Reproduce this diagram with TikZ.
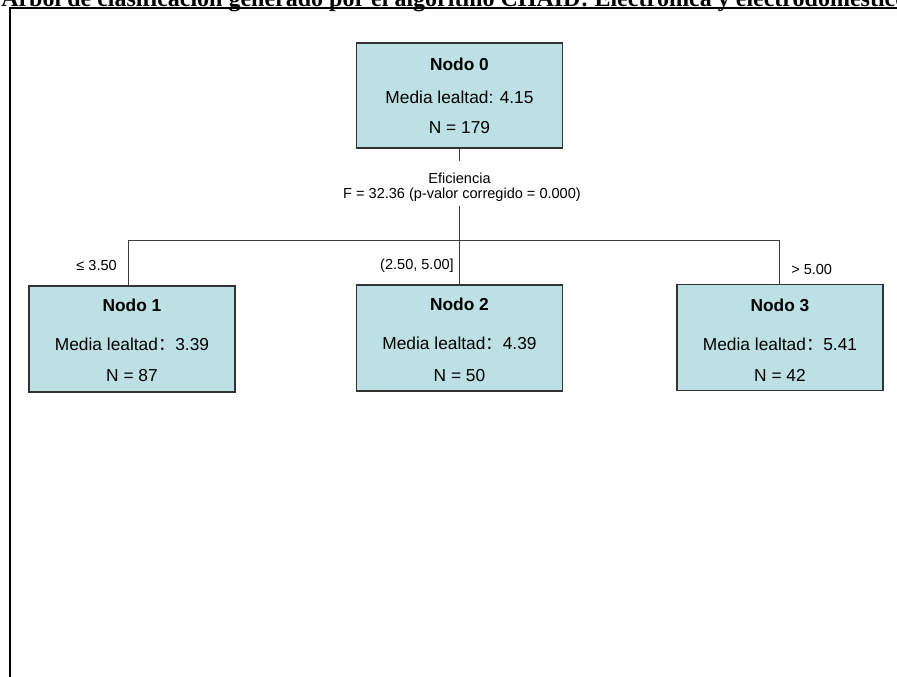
\documentclass[tikz,border=0pt]{standalone}
\usepackage{fontspec}
\setmainfont{Liberation Sans}
\newfontfamily\titlefont{Liberation Serif}
\newfontfamily\cjkfont{Noto Sans CJK SC}
\usetikzlibrary{calc}

\definecolor{nodefill}{RGB}{188,224,228}
\definecolor{linegray}{RGB}{60,60,60}

\tikzset{
	treebox/.style={draw=black!80, fill=nodefill, line width=0.8pt, inner sep=0pt,
		minimum width=154.5pt, minimum height=79.5pt},
	boxtext/.style={anchor=base, inner sep=0pt, font=\fontsize{13}{15}\selectfont},
	edgetext/.style={inner sep=0pt, font=\fontsize{10.9}{13}\selectfont},
	branch/.style={draw=linegray, line width=0.75pt},
}

\begin{document}
\begin{tikzpicture}[x=0.75pt, y=-0.75pt]

% canvas %{{{1

	\path[use as bounding box, clip] (0,0) rectangle (897,676);

% coordinates %{{{1

	\coordinate (frameR) at (905,7.7);
	\coordinate (frameTL) at (9.5,7.7);
	\coordinate (frameBL) at (9.5,690);

	\coordinate (t1) at (459.5,161);
	\coordinate (t2) at (459.5,206);
	\coordinate (b1) at (128,240.5);
	\coordinate (b3) at (779.5,240.5);

% title and frame %{{{1

	\node[anchor=base west, inner sep=0pt, font=\titlefont\bfseries\fontsize{18}{20}\selectfont]
		(title) at (1,6) {Árbol de clasificación generado por el algoritmo CHAID: Electrónica y electrodomésticos};

	\draw[line width=1.5pt] (frameR) -- (frameTL) -- (frameBL);

% boxes %{{{1

	\node[treebox, minimum height=78.75pt] (n0) at (459.5,95.5) {};
	\node[treebox] (n1) at (132,339) {};
	\node[treebox] (n2) at (459.5,338) {};
	\node[treebox] (n3) at (780,337.5) {};

% box texts %{{{1

	\node[boxtext, font=\fontsize{13}{15}\selectfont\bfseries] (n0name) at (459.5,70) {Nodo 0};
	\node[boxtext] (n0mean) at (459.5,103) {Media lealtad: 4.15};
	\node[boxtext] (n0size) at (459.5,133) {N = 179};

	\node[boxtext, font=\fontsize{13}{15}\selectfont\bfseries] (n1name) at (132,311) {Nodo 1};
	\node[boxtext] (n1mean) at (132,350.5) {Media lealtad{\cjkfont ：}3.39};
	\node[boxtext] (n1size) at (132,381.5) {N = 87};

	\node[boxtext, font=\fontsize{13}{15}\selectfont\bfseries] (n2name) at (459.5,310.5) {Nodo 2};
	\node[boxtext] (n2mean) at (459.5,349.5) {Media lealtad{\cjkfont ：}4.39};
	\node[boxtext] (n2size) at (459.5,381.5) {N = 50};

	\node[boxtext, font=\fontsize{13}{15}\selectfont\bfseries] (n3name) at (780,311.5) {Nodo 3};
	\node[boxtext] (n3mean) at (780,350) {Media lealtad{\cjkfont ：}5.41};
	\node[boxtext] (n3size) at (780,381) {N = 42};

% branches %{{{1

	\draw[branch] (n0.south) -- (t1);
	\draw[branch] (t2) -- (n2.north);
	\draw[branch] (b1) -- (b3);
	\draw[branch] (b1) -- (b1 |- n1.north);
	\draw[branch] (b3) -- (b3 |- n3.north);

% split and branch labels %{{{1

	\node[edgetext, anchor=base] (splitvar) at (459.5,183) {Eficiencia};
	\node[edgetext, anchor=base] (splitstat) at (462,198) {F = 32.36 (p-valor corregido = 0.000)};

	\node[edgetext, anchor=base east] (cond1) at (117,270) {≤ 3.50};
	\node[edgetext, anchor=base east] (cond2) at (454,269) {(2.50, 5.00]};
	\node[edgetext, anchor=base west] (cond3) at (791,274) {> 5.00};

% closing %{{{1

\end{tikzpicture}
\end{document}
